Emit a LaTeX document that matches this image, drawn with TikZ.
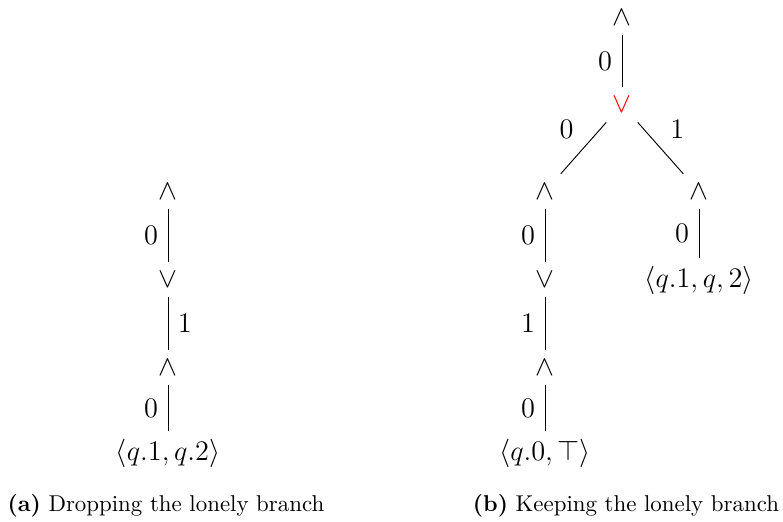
\documentclass[tikz,border=0pt]{standalone}
\begin{document}
\begin{tikzpicture}[x=0.4237pt, y=-0.4237pt,
  treefont/.style={font=\fontsize{12}{14}\selectfont},
  op/.style={treefont, anchor=base, inner sep=0pt, text height=10.5pt, text depth=4.2pt, minimum width=14pt},
  leaf/.style={treefont, anchor=base, inner sep=0pt, text height=12.3pt, text depth=3pt},
  lbl/.style={treefont, inner sep=4pt},
  conn/.style={line width=0.4pt},
  captext/.style={anchor=base, inner sep=0pt, font=\fontsize{9.7}{12}\selectfont}]
\useasboundingbox (0,0) rectangle (783,521);

% (a) left tree
\node[op] (la1) at (168,199) {$\wedge$};
\node[op] (lo1) at (168,287) {$\vee$};
\node[op] (la2) at (168,375) {$\wedge$};
\node[leaf] (ll) at (168,460) {$\langle q.1, q.2\rangle$};
\draw[conn] (la1) -- node[lbl, left] {$0$} (lo1);
\draw[conn] (lo1) -- node[lbl, right] {$1$} (la2);
\draw[conn] (la2) -- node[lbl, left] {$0$} (ll);

% (b) right tree
\node[op] (ra0) at (622,25) {$\wedge$};
\node[op, text=red] (ro0) at (622,112) {$\vee$};
\node[op] (ra1) at (545,199) {$\wedge$};
\node[op] (ra2) at (699,199) {$\wedge$};
\node[leaf] (rl2) at (699,287) {$\langle q.1, q, 2\rangle$};
\node[op] (ro1) at (545,287) {$\vee$};
\node[op] (ra3) at (545,375) {$\wedge$};
\node[leaf] (rl1) at (545,460) {$\langle q.0, \top\rangle$};
\draw[conn] (ra0) -- node[lbl, left] {$0$} (ro0);
\draw[conn] (ro0) -- node[lbl, above left] {$0$} (ra1);
\draw[conn] (ro0) -- node[lbl, above right] {$1$} (ra2);
\draw[conn] (ra2) -- node[lbl, left] {$0$} (rl2);
\draw[conn] (ra1) -- node[lbl, left] {$0$} (ro1);
\draw[conn] (ro1) -- node[lbl, left] {$1$} (ra3);
\draw[conn] (ra3) -- node[lbl, left] {$0$} (rl1);

% captions
\node[captext] (capa) at (166,511) {\textbf{(a)} Dropping the lonely branch};
\node[captext] (capb) at (626,511) {\textbf{(b)} Keeping the lonely branch};
\end{tikzpicture}
\end{document}
